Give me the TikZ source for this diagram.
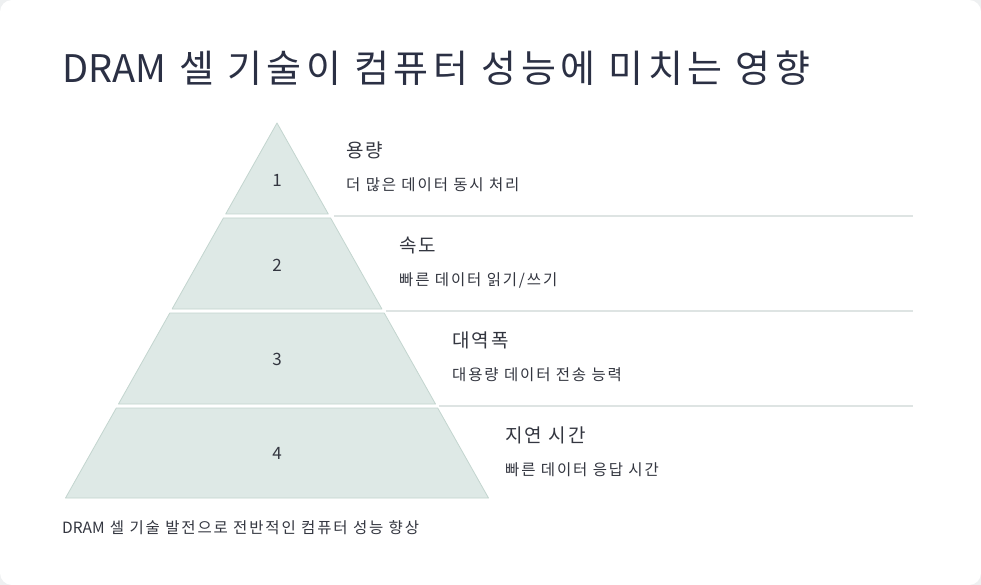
\documentclass[tikz,border=0pt]{standalone}
\usepackage{fontspec}
\setmainfont{Noto Sans CJK KR}[LetterSpace=12]
\newfontfamily\latinf{Noto Sans CJK KR}
\definecolor{outbg}{HTML}{EEF0F1}
\definecolor{lvlfill}{HTML}{DEE9E6}
\definecolor{lvldraw}{HTML}{C3D5CF}
\definecolor{sepline}{HTML}{DEE4E3}
\definecolor{titlec}{HTML}{2B3044}
\definecolor{textc}{HTML}{333640}
\tikzset{
  level/.style={fill=lvlfill, draw=lvldraw, line width=0.8pt, line join=round},
  sep/.style={draw=sepline, line width=2pt},
  numtxt/.style={font=\latinf\fontsize{17}{20}\selectfont, text=textc, inner sep=0pt},
  headtxt/.style={font=\fontsize{19}{22}\selectfont, text=textc, anchor=base west, inner sep=0pt},
  subtxt/.style={font=\fontsize{15.5}{18}\selectfont, text=textc, anchor=base west, inner sep=0pt},
}
\begin{document}
\begin{tikzpicture}[x=1pt,y=-1pt]
\useasboundingbox (0,0) rectangle (981,585);
\fill[outbg] (0,0) rectangle (981,585);
\fill[white, rounded corners=12pt] (0,0) rectangle (981,585);

% title
\node[anchor=base west, inner sep=0pt, text=titlec, font=\fontsize{38}{44}\selectfont] (title) at (62,83) {{\latinf DRAM} 셀 기술이 컴퓨터 성능에 미치는 영향};

% pyramid levels
\draw[level] (277,123) -- (328.3,214) -- (225.7,214) -- cycle;
\draw[level] (223.4,218) -- (330.6,218) -- (381.9,309) -- (172.1,309) -- cycle;
\draw[level] (169.8,313) -- (384.2,313) -- (435.5,404) -- (118.5,404) -- cycle;
\draw[level] (116.3,408) -- (437.7,408) -- (488.5,498) -- (65.5,498) -- cycle;

\node[numtxt] (n1) at (277,180.5) {1};
\node[numtxt] (n2) at (277,265) {2};
\node[numtxt] (n3) at (277,359) {3};
\node[numtxt] (n4) at (277,453.5) {4};

% separators
\coordinate (s1a) at (334,216); \coordinate (s1b) at (913,216);
\coordinate (s2a) at (386,311); \coordinate (s2b) at (913,311);
\coordinate (s3a) at (439,406); \coordinate (s3b) at (913,406);
\draw[sep] (s1a) -- (s1b);
\draw[sep] (s2a) -- (s2b);
\draw[sep] (s3a) -- (s3b);

% labels
\node[headtxt] (h1) at (346,158) {용량};
\node[subtxt] (d1) at (346,190.5) {더 많은 데이터 동시 처리};
\node[headtxt] (h2) at (399,252.5) {속도};
\node[subtxt] (d2) at (399,285.5) {빠른 데이터 읽기/쓰기};
\node[headtxt] (h3) at (452,347.5) {대역폭};
\node[subtxt] (d3) at (452,380.5) {대용량 데이터 전송 능력};
\node[headtxt] (h4) at (505,442.5) {지연 시간};
\node[subtxt] (d4) at (505,475) {빠른 데이터 응답 시간};

% footer
\node[subtxt] (foot) at (62,533) {{\latinf DRAM} 셀 기술 발전으로 전반적인 컴퓨터 성능 향상};
\end{tikzpicture}
\end{document}
